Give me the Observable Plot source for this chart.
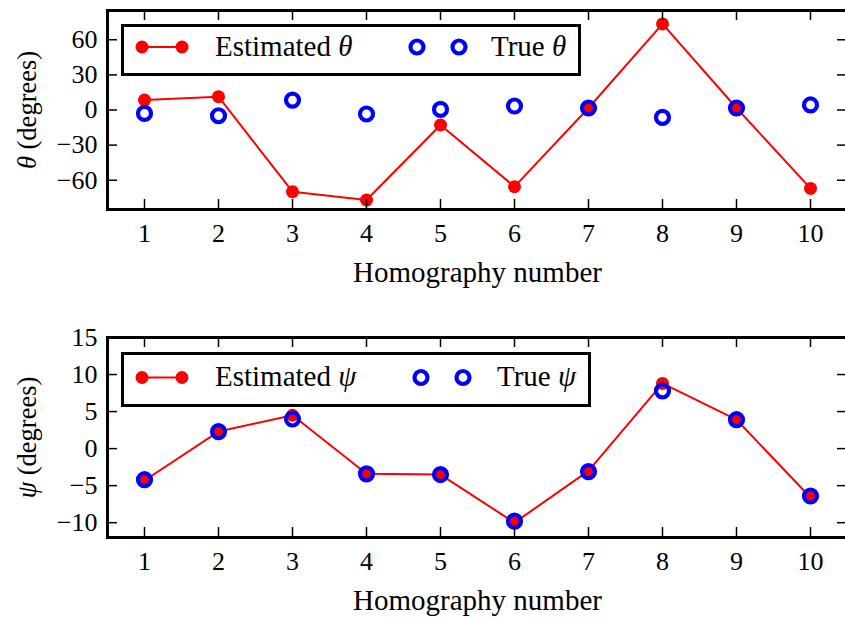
<!DOCTYPE html>
<html>
<head>
<meta charset="utf-8">
<script src="https://cdn.jsdelivr.net/npm/d3@7"></script>
<script src="https://cdn.jsdelivr.net/npm/@observablehq/plot@0.6"></script>
<style>
  body { margin: 0; background: #fff; }
  #fig { position: relative; width: 845px; height: 618px; overflow: hidden; }
  #fig svg { display: block; }
  .legend { position: absolute; overflow: visible; }
</style>
</head>
<body>
<div id="fig"></div>
<script>
// Homography index along the x axis
const homography = [1, 2, 3, 4, 5, 6, 7, 8, 9, 10];

// Rotation angle theta (degrees)
const thetaEstimated = [8.5, 11.4, -69.8, -76.9, -12.8, -65.5, 1.7, 73.5, 1.7, -67.0];
const thetaTrue      = [-2.9, -4.9, 8.5, -3.4, 0.5, 3.4, 1.7, -6.3, 1.7, 4.3];

// Angle psi (degrees)
const psiEstimated = [-4.3, 2.3, 4.5, -3.4, -3.5, -10.0, -3.0, 8.8, 3.9, -6.6];
const psiTrue      = [-4.2, 2.3, 4.0, -3.4, -3.5, -9.8, -3.1, 7.8, 3.9, -6.4];

// Axis ticks and labels
const thetaTicks = [-60, -30, 0, 30, 60];
const psiTicks = [-10, -5, 0, 5, 10, 15];
const xLabel = "Homography number";
const unitLabel = " (degrees)";

const FONT = '"Liberation Serif", "Times New Roman", serif';
const RED = "#ff0000";
const BLUE = "#0000ff";

function panel(cfg) {
  const rows = homography.map((h, i) => ({h, est: cfg.est[i], tru: cfg.tru[i]}));
  const W = 845, H = cfg.height;
  const left = 107, right = -2;
  const innerW = W - left - right;
  const innerH = H - cfg.marginTop - cfg.marginBottom;
  const tick = 10;
  const yLabel = cfg.symbol + unitLabel;

  const svg = Plot.plot({
    width: W,
    height: H,
    marginLeft: left,
    marginRight: right,
    marginTop: cfg.marginTop,
    marginBottom: cfg.marginBottom,
    style: {fontFamily: FONT, fontSize: "26px", color: "#000", background: "transparent", overflow: "visible"},
    x: {domain: [0.5, 10.5]},
    y: {domain: cfg.yDomain},
    marks: [
      Plot.line(rows, {x: "h", y: "est", stroke: RED, strokeWidth: 2}),
      Plot.dot(rows, {x: "h", y: "est", r: 6.5, fill: RED}),
      Plot.dot(rows, {x: "h", y: "tru", r: 6.5, fill: "none", stroke: BLUE, strokeWidth: 4.2}),
      // inward-pointing ticks on all four sides
      Plot.tickY(cfg.yTicks, {y: d => d, insetRight: innerW - tick, strokeWidth: 1.5}),
      Plot.tickY(cfg.yTicks, {y: d => d, insetLeft: innerW - tick, strokeWidth: 1.5}),
      Plot.tickX(homography, {x: d => d, insetBottom: innerH - tick, strokeWidth: 1.5}),
      Plot.tickX(homography, {x: d => d, insetTop: innerH - tick, strokeWidth: 1.5}),
      Plot.axisY(cfg.yTicks, {tickSize: 0, tickPadding: 10, label: null}),
      Plot.axisX(homography, {tickSize: 0, tickPadding: 14, label: null}),
      Plot.frame({stroke: "#000", strokeWidth: 3}),
      Plot.text([xLabel], {text: d => d, frameAnchor: "bottom", textAnchor: "middle", dy: 72, fontSize: 29}),
      Plot.text([yLabel], {text: d => d, frameAnchor: "left", textAnchor: "middle", dx: -80, rotate: -90, fontSize: 26.5})
    ]
  });

  // italic Greek symbol in the y-axis label
  svg.querySelectorAll("text").forEach(t => {
    if (t.textContent === yLabel) {
      t.textContent = "";
      const a = document.createElementNS("http://www.w3.org/2000/svg", "tspan");
      a.setAttribute("font-style", "italic");
      a.textContent = cfg.symbol;
      const b = document.createElementNS("http://www.w3.org/2000/svg", "tspan");
      b.textContent = unitLabel;
      t.append(a, b);
    }
  });
  return svg;
}

function legend(cfg) {
  const s = d3.create("svg")
    .attr("class", "legend")
    .attr("width", cfg.w)
    .attr("height", cfg.h)
    .style("left", cfg.left + "px")
    .style("top", cfg.top + "px")
    .style("font-family", FONT)
    .style("font-size", "29px");
  s.append("rect")
    .attr("x", 1.5).attr("y", 1.5)
    .attr("width", cfg.w - 3).attr("height", cfg.h - 3)
    .attr("fill", "#fff").attr("stroke", "#000").attr("stroke-width", 3);
  s.append("line")
    .attr("x1", 21).attr("x2", 61).attr("y1", cfg.cy).attr("y2", cfg.cy)
    .attr("stroke", RED).attr("stroke-width", 2);
  for (const x of [21, 61]) {
    s.append("circle").attr("cx", x).attr("cy", cfg.cy).attr("r", 6.5).attr("fill", RED);
  }
  for (const x of cfg.circles) {
    s.append("circle").attr("cx", x).attr("cy", cfg.cy).attr("r", 6.5)
      .attr("fill", "none").attr("stroke", BLUE).attr("stroke-width", 4.2);
  }
  const t1 = s.append("text").attr("x", 94).attr("y", cfg.base);
  t1.append("tspan").text("Estimated ");
  t1.append("tspan").attr("font-style", "italic").text(cfg.symbol);
  const t2 = s.append("text").attr("x", cfg.trueX).attr("y", cfg.base);
  t2.append("tspan").text("True ");
  t2.append("tspan").attr("font-style", "italic").text(cfg.symbol);
  return s.node();
}

const fig = document.getElementById("fig");

fig.append(panel({
  est: thetaEstimated, tru: thetaTrue, symbol: "θ",
  yDomain: [-85, 85], yTicks: thetaTicks,
  height: 309, marginTop: 10, marginBottom: 100
}));
fig.append(panel({
  est: psiEstimated, tru: psiTrue, symbol: "ψ",
  yDomain: [-12, 15], yTicks: psiTicks,
  height: 309, marginTop: 28, marginBottom: 81
}));

fig.append(legend({left: 121, top: 24, w: 460, h: 52, cy: 23, base: 32, circles: [296, 338], trueX: 370, symbol: "θ"}));
fig.append(legend({left: 121, top: 352, w: 470, h: 55, cy: 25.5, base: 34, circles: [300, 342], trueX: 376, symbol: "ψ"}));
</script>
</body>
</html>
